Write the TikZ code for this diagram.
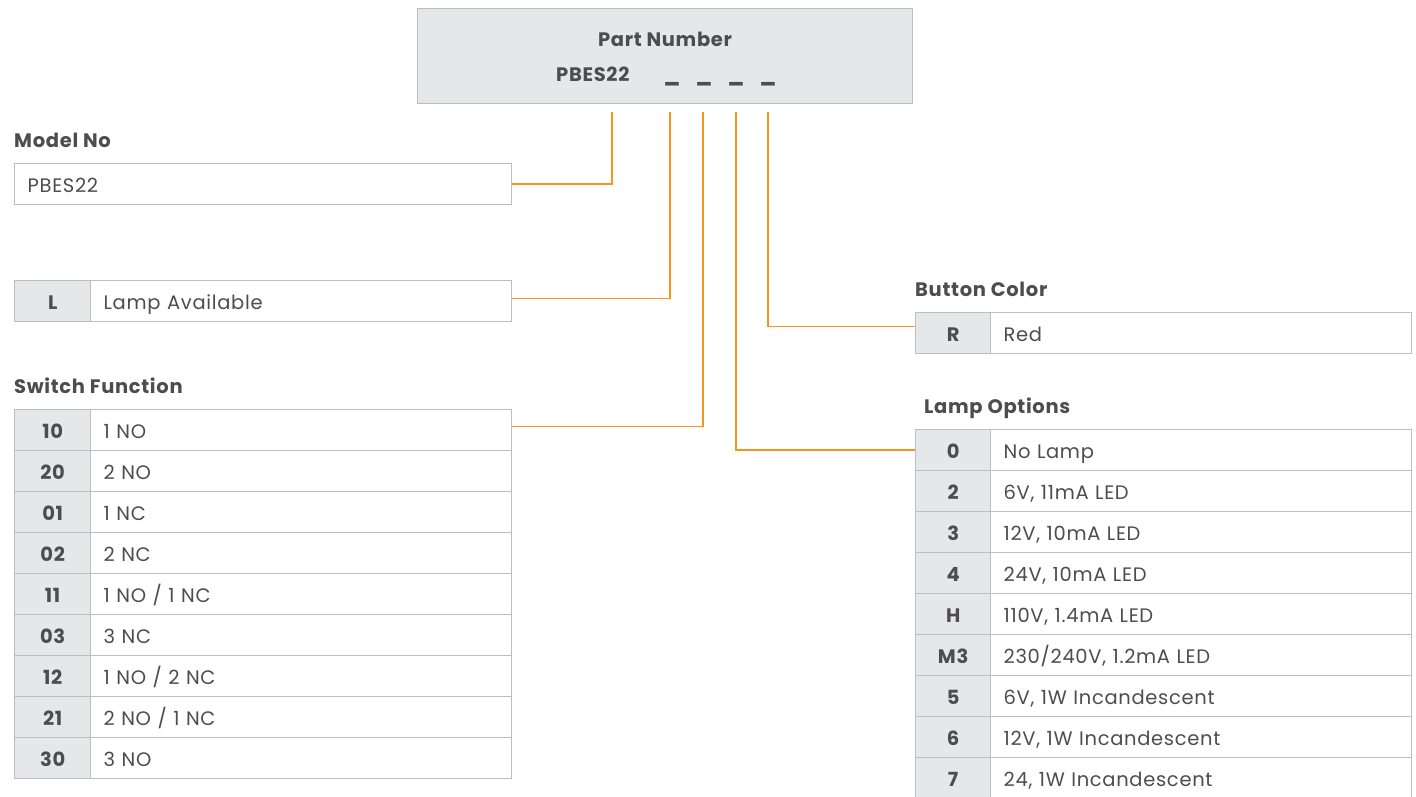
\documentclass[tikz,border=0pt]{standalone}
\usepackage{fontspec}
\setmainfont{Poppins}[LetterSpace=3.5]
\definecolor{txt}{HTML}{4D4D4F}
\definecolor{orng}{HTML}{F7941D}
\definecolor{bord}{HTML}{BCBEC0}
\definecolor{keyfill}{HTML}{E6E7E8}
\begin{document}
\begin{tikzpicture}[x=1pt,y=-1pt,
  every node/.style={text=txt},
  cellbase/.style={draw=bord, line width=1.3pt, minimum height=41pt, inner ysep=0pt, anchor=north west, text height=17pt, text depth=0pt},
  keycell/.style={cellbase, fill=keyfill, minimum width=76pt, inner xsep=0pt, font=\fontsize{19.5}{22}\selectfont\bfseries},
  valcell/.style={cellbase, fill=white, text width=#1, inner xsep=13pt, align=left, font=\fontsize{19.5}{22}\selectfont},
  valcell/.default=395pt,
  heading/.style={anchor=base west, inner sep=0pt, font=\fontsize{19.5}{22}\selectfont\bfseries},
  conn/.style={draw=orng, line width=1.6pt}
]
\useasboundingbox (0,0) rectangle (1416,797);
\clip (0,0) rectangle (1416,797);
\fill[white] (0,0) rectangle (1416,797);

% Part number box
\node[draw=bord, fill=keyfill, line width=1.3pt, minimum width=495pt, minimum height=95pt, anchor=north west, inner sep=0pt] (pn) at (417,8) {};
\node[anchor=base, inner sep=0pt, font=\fontsize{19.5}{22}\selectfont\bfseries] (pnt) at (665,47) {Part Number};
\node[anchor=base west, inner sep=0pt, font=\fontsize{19.5}{22}\selectfont\bfseries] (pbes) at (556,82) {PBES22};
\foreach \x [count=\i] in {672,704,736,768}
  \node[anchor=base, inner sep=0pt, font=\fontsize{22}{24}\selectfont\bfseries] (d\i) at (\x,82) {\_};

\coordinate (c1) at (612,112);
\coordinate (c2) at (670,112);
\coordinate (c3) at (703,112);
\coordinate (c4) at (736,112);
\coordinate (c5) at (768,112);

% Model No
\node[heading] (hmodel) at (14,147) {Model No};
\node[cellbase, fill=white, minimum width=497pt, text width=471pt, inner xsep=13pt, align=left, font=\fontsize{19.5}{22}\selectfont] (model) at (14,163) {PBES22};

% Lamp available
\node[keycell] (lk) at (14,280) {L};
\node[valcell] (lv) at (90,280) {Lamp Available};

% Switch function
\node[heading] (hsw) at (14,393) {Switch Function};
\foreach \k/\v [count=\i from 0] in {10/{1 NO},20/{2 NO},01/{1 NC},02/{2 NC},11/{1 NO / 1 NC},03/{3 NC},12/{1 NO / 2 NC},21/{2 NO / 1 NC},30/{3 NO}}{
  \node[keycell] (sk\i) at (14,409+41*\i) {\k};
  \node[valcell] (sv\i) at (90,409+41*\i) {\v};
}

% Button color
\node[heading] (hbc) at (915,296) {Button Color};
\node[keycell, minimum width=75pt] (bk) at (915,312) {R};
\node[valcell=395pt] (bv) at (990,312) {Red};

% Lamp options
\node[heading] (hlo) at (924,413) {Lamp Options};
\foreach \k/\v [count=\i from 0] in {0/{No Lamp},2/{6V, 11mA LED},3/{12V, 10mA LED},4/{24V, 10mA LED},H/{110V, 1.4mA LED},M3/{230/240V, 1.2mA LED},5/{6V, 1W Incandescent},6/{12V, 1W Incandescent},7/{24, 1W Incandescent}}{
  \node[keycell, minimum width=75pt] (lok\i) at (915,429+41*\i) {\k};
  \node[valcell=395pt] (lov\i) at (990,429+41*\i) {\v};
}

% connectors
\draw[conn] (c1) |- (model.east);
\draw[conn] (c2) |- ([yshift=2.5pt]lv.east);
\draw[conn] (c3) |- ([yshift=3.5pt]sv0.east);
\draw[conn] (c4) |- (lok0.west);
\draw[conn] (c5) |- ([yshift=6.5pt]bk.west);
\end{tikzpicture}
\end{document}
